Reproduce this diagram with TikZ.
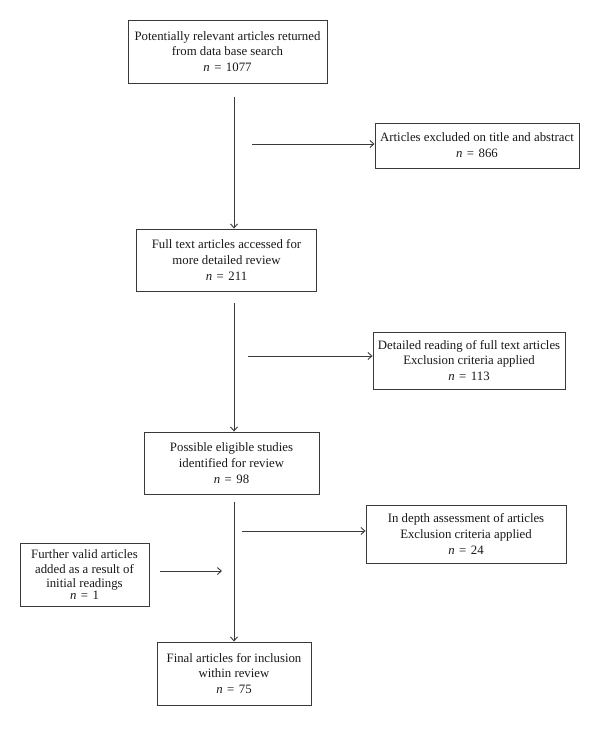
\documentclass[tikz,border=0pt]{standalone}
\usepackage{fontspec}
\setmainfont{Liberation Serif}
\usetikzlibrary{arrows.meta}
\definecolor{linec}{HTML}{3A3A3A}
\newcommand{\nval}[1]{\textit{n}\hspace{0.35em}=\hspace{0.35em}#1}
\tikzset{
  box/.style={draw=linec, line width=0.9pt, align=center, inner sep=2pt,
    font=\fontsize{12.8}{15.8}\selectfont, text=black!90},
  conn/.style={draw=linec, line width=0.9pt},
  arr/.style={conn, -{Straight Barb[length=4pt,width=7pt]}}
}
\begin{document}
\begin{tikzpicture}[x=1pt,y=-1pt]
\useasboundingbox (0,0) rectangle (600,752);
\fill[white] (0,0) rectangle (600,752);

\node[box, minimum width=199pt, minimum height=63pt] (b1) at (227.5,51.5)
  {Potentially relevant articles returned\\from data base search\\\nval{1077}};
\node[box, minimum width=204pt, minimum height=45pt] (ex1) at (477,145.5)
  {Articles excluded on title and abstract\\\nval{866}};
\node[box, minimum width=180pt, minimum height=62pt] (b2) at (226.5,260)
  {Full text articles accessed for\\more detailed review\\\nval{211}};
\node[box, minimum width=192pt, minimum height=57pt] (ex2) at (469,360.5)
  {Detailed reading of full text articles\\Exclusion criteria applied\\\nval{113}};
\node[box, minimum width=175pt, minimum height=62pt] (b3) at (231.5,463)
  {Possible eligible studies\\identified for review\\\nval{98}};
\node[box, minimum width=200pt, minimum height=58pt] (ex3) at (466,534)
  {In depth assessment of articles\\Exclusion criteria applied\\\nval{24}};
\node[box, minimum width=129pt, minimum height=63pt, font=\fontsize{12.8}{14.8}\selectfont] (fu) at (84.5,574.5)
  {Further valid articles\\added as a result of\\initial readings\\[-3pt]\nval{1}};
\node[box, minimum width=154pt, minimum height=63pt] (fin) at (234,673.5)
  {Final articles for inclusion\\within review\\\nval{75}};

\coordinate (s1) at (234,97);
\coordinate (s2) at (252,144);
\coordinate (s3) at (234,303);
\coordinate (s4) at (248,356);
\coordinate (s5) at (234,502);
\coordinate (s6) at (242,531);
\coordinate (s7) at (160,571);
\coordinate (e7) at (222,571);

\draw[arr] (s1) -- (s1 |- b2.north);
\draw[arr] (s2) -- (s2 -| ex1.west);
\draw[arr] (s3) -- (s3 |- b3.north);
\draw[arr] (s4) -- (s4 -| ex2.west);
\draw[arr] (s5) -- (s5 |- fin.north);
\draw[arr] (s6) -- (s6 -| ex3.west);
\draw[arr] (s7) -- (e7);
\end{tikzpicture}
\end{document}
